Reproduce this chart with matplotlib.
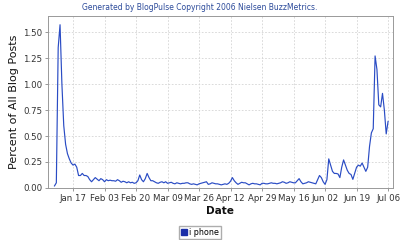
import datetime as dt
import matplotlib
matplotlib.use("Agg")
import matplotlib.pyplot as plt
import matplotlib.dates as mdates
from matplotlib.ticker import FixedLocator, FormatStrFormatter
from matplotlib.lines import Line2D

# Daily values (percent of all blog posts), starting 2007-01-07
start_date = dt.date(2007, 1, 7)
values = [
    0.02, 0.05, 1.35, 1.57, 1.0, 0.6, 0.42, 0.33, 0.28, 0.24,
    0.22, 0.23, 0.2, 0.12, 0.12, 0.14, 0.12, 0.12, 0.11, 0.08,
    0.06, 0.08, 0.10, 0.085, 0.07, 0.09, 0.08, 0.06, 0.08, 0.07,
    0.075, 0.07, 0.07, 0.065, 0.08, 0.07, 0.055, 0.065, 0.06, 0.05,
    0.06, 0.05, 0.055, 0.045, 0.05, 0.07, 0.125, 0.08, 0.06, 0.09,
    0.14, 0.1, 0.07, 0.07, 0.06, 0.05, 0.045, 0.055, 0.06, 0.05,
    0.06, 0.045, 0.05, 0.055, 0.045, 0.04, 0.05, 0.045, 0.04, 0.045,
    0.045, 0.05, 0.05, 0.04, 0.035, 0.04, 0.035, 0.03, 0.04, 0.045,
    0.05, 0.055, 0.06, 0.035, 0.04, 0.05, 0.045, 0.04, 0.04, 0.035,
    0.03, 0.035, 0.04, 0.035, 0.045, 0.065, 0.1, 0.07, 0.05, 0.035,
    0.045, 0.055, 0.05, 0.05, 0.04, 0.03, 0.04, 0.045, 0.04, 0.04,
    0.035, 0.03, 0.045, 0.045, 0.04, 0.04, 0.045, 0.05, 0.045, 0.045,
    0.04, 0.045, 0.05, 0.06, 0.055, 0.045, 0.05, 0.06, 0.055, 0.05,
    0.05, 0.07, 0.09, 0.06, 0.04, 0.045, 0.05, 0.06, 0.055, 0.05,
    0.045, 0.04, 0.08, 0.12, 0.1, 0.06, 0.035, 0.08, 0.28, 0.22,
    0.16, 0.14, 0.14, 0.135, 0.10, 0.2, 0.27, 0.22, 0.17, 0.14,
    0.13, 0.083, 0.14, 0.2, 0.22, 0.21, 0.24, 0.2, 0.16, 0.2,
    0.4, 0.53, 0.57, 1.27, 1.14, 0.8, 0.78, 0.91, 0.75, 0.52,
    0.64,
]
dates = [start_date + dt.timedelta(days=i) for i in range(len(values))]

tick_dates = [dt.date(2007, 1, 17) + dt.timedelta(days=17 * i) for i in range(11)]
tick_labels = ["Jan 17", "Feb 03", "Feb 20", "Mar 09", "Mar 26", "Apr 12",
               "Apr 29", "May 16", "Jun 02", "Jun 19", "Jul 06"]
y_ticks = [0.0, 0.25, 0.5, 0.75, 1.0, 1.25, 1.5]

fig = plt.figure(figsize=(4, 2.4), dpi=100)
ax = fig.add_axes([0.12, 0.2167, 0.8625, 0.7166])

line_color = "#2a4cc4"
ax.plot(dates, values, color=line_color, lw=0.85, label="i phone")

ax.set_xlim(dt.datetime(2007, 1, 3, 12), dt.datetime(2007, 7, 8, 16))
ax.set_ylim(0, 1.654)

ax.xaxis.set_major_locator(FixedLocator(mdates.date2num(tick_dates)))
ax.set_xticklabels(tick_labels)
ax.set_yticks(y_ticks)
ax.yaxis.set_major_formatter(FormatStrFormatter("%.2f"))

ax.tick_params(axis="both", labelsize=6.2, length=2, width=0.6, color="#888888",
               labelcolor="#333333", pad=2)
ax.grid(True, color="#d4d4d4", linestyle=(0, (2, 2)), lw=0.6)
for s in ax.spines.values():
    s.set_color("#999999")
    s.set_linewidth(0.7)

fig.text(14 / 400, 1 - 102 / 240, "Percent of All Blog Posts", rotation=90,
         ha="center", va="center", fontsize=8.0, color="#111111")
fig.text(220 / 400, 1 - 211 / 240, "Date", ha="center", va="center",
         fontsize=7.6, fontweight="bold", color="#111111")

fig.text(0.5, 0.97, "Generated by BlogPulse Copyright 2006 Nielsen BuzzMetrics.",
         ha="center", va="center", fontsize=5.5, color="#2b4a9a")

handle = Line2D([], [], marker="s", linestyle="none", markersize=5,
                markerfacecolor="#1a2ea8", markeredgecolor="#1a2ea8")
fig.legend([handle], ["i phone"], loc="center", bbox_to_anchor=(0.5, 1 - 232.5 / 240),
           fontsize=5.8, frameon=True, fancybox=False, edgecolor="#999999",
           handlelength=0.7, handletextpad=0.3, borderpad=0.2, borderaxespad=0)

fig.savefig("out.png", dpi=100)
